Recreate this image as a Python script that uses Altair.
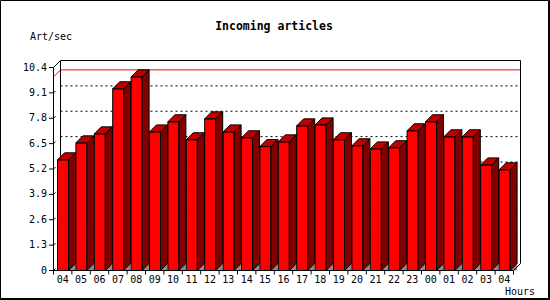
import altair as alt
import pandas as pd

# ---------------- data ----------------
hours = ["04", "05", "06", "07", "08", "09", "10", "11", "12", "13", "14", "15",
         "16", "17", "18", "19", "20", "21", "22", "23", "00", "01", "02", "03", "04"]
rates = [5.67, 6.54, 7.00, 9.31, 9.92, 7.10, 7.62, 6.70, 7.77, 7.10, 6.80, 6.35,
         6.59, 7.41, 7.46, 6.70, 6.39, 6.23, 6.29, 7.16, 7.62, 6.85, 6.85, 5.41, 5.16]
y_ticks = [0, 1.3, 2.6, 3.9, 5.2, 6.5, 7.8, 9.1, 10.4]
title_text = "Incoming articles"
y_title = "Art/sec"
x_title = "Hours"

# ---------------- geometry / style ----------------
PLOT_W, PLOT_H = 467, 210
PAD_L, PAD_T = 53, 60
N = len(hours)
YMAX = y_ticks[-1]
DEPTH_PX = 7
px_x = (PLOT_W - DEPTH_PX) / N
px_y = (PLOT_H - DEPTH_PX) / YMAX
DX = DEPTH_PX / px_x
DY = DEPTH_PX / px_y
BAR_OFF = 4 / px_x
BAR_W = 11 / px_x
FONT = "DejaVu Sans Mono"

xs = alt.Scale(domain=[0, N + DX], range=[0.5, PLOT_W + 0.5], nice=False, zero=False)
ys = alt.Scale(domain=[0, YMAX + DY], range=[PLOT_H + 0.5, 0.5], nice=False, zero=False)


def X(f):
    return alt.X(f, type="quantitative", scale=xs, axis=None)


def Y(f):
    return alt.Y(f, type="quantitative", scale=ys, axis=None)


# ---------------- derived tables ----------------
front_rows, side_rows, top_rows, shadow_rows = [], [], [], []
for i, v in enumerate(rates):
    x0 = i + BAR_OFF
    x1 = x0 + BAR_W
    front_rows.append({"bar": i, "x0": x0, "x1": x1, "v": v, "z": 0.0})
    side_rows.append({"bar": i, "x": x1, "top": v, "bot": 0.0})
    side_rows.append({"bar": i, "x": x1 + DX, "top": v + DY, "bot": DY})
    top_rows.append({"bar": i, "y": v, "xl": x0, "xr": x1})
    top_rows.append({"bar": i, "y": v + DY, "xl": x0 + DX, "xr": x1 + DX})
    shadow_rows.append({"bar": i, "x": x1, "top": 0.0, "bot": 0.0})
    shadow_rows.append({"bar": i, "x": x1 + DX, "top": DY, "bot": 0.0})

front_df = pd.DataFrame(front_rows)
side_df = pd.DataFrame(side_rows)
top_df = pd.DataFrame(top_rows)
shadow_df = pd.DataFrame(shadow_rows)

vmax = max(rates)
grid_df = pd.DataFrame([{"x": DX, "x2": N + DX, "y": t + DY, "y2": t + DY}
                        for t in y_ticks[1:-1]])
red_df = pd.DataFrame([
    {"x": 0, "x2": DX, "y": vmax, "y2": vmax + DY},
    {"x": DX, "x2": N + DX, "y": vmax + DY, "y2": vmax + DY},
])
back_df = pd.DataFrame([
    {"x": DX, "x2": N + DX, "y": YMAX + DY, "y2": YMAX + DY},      # back top
    {"x": DX, "x2": DX, "y": DY, "y2": YMAX + DY},                 # back left
    {"x": N + DX, "x2": N + DX, "y": DY, "y2": YMAX + DY},         # back right
    {"x": 0, "x2": DX, "y": YMAX, "y2": YMAX + DY},                # left wall top
])
front_axis_df = pd.DataFrame([
    {"x": 0, "x2": 0, "y": 0, "y2": YMAX},                         # front y axis
    {"x": 0, "x2": N, "y": 0, "y2": 0},                            # front x axis
    {"x": N, "x2": N + DX, "y": 0, "y2": DY},                      # right floor edge
])
ytick_df = pd.DataFrame({
    "t": y_ticks,
    "t2": [t + 2 / px_y for t in y_ticks],
    "x": [0.0] * len(y_ticks),
    "x2": [2 / px_x] * len(y_ticks),
    "label": ["0" if t == 0 else f"{t:.1f}" for t in y_ticks],
})
xtick_df = pd.DataFrame({"b": list(range(N + 1))})
xlab_df = pd.DataFrame({"c": [i + 0.5 for i in range(N)], "label": hours})

# ---------------- layers ----------------
grid = alt.Chart(grid_df).mark_rule(color="black", strokeWidth=1, strokeDash=[2, 3]).encode(
    x=X("x"), x2="x2", y=Y("y"), y2="y2")
redline = alt.Chart(red_df).mark_rule(color="#ff0000", strokeWidth=1).encode(
    x=X("x"), x2="x2", y=Y("y"), y2="y2")
back = alt.Chart(back_df).mark_rule(color="black", strokeWidth=1).encode(
    x=X("x"), x2="x2", y=Y("y"), y2="y2")

shadow = alt.Chart(shadow_df).mark_area(color="#8c8c8c", orient="vertical").encode(
    x=X("x"), y=alt.Y("top:Q", scale=ys, axis=None, stack=False), y2="bot",
    detail="bar:N")
front = alt.Chart(front_df).mark_rect(color="#ff0000", stroke="black", strokeWidth=1).encode(
    x=X("x0"), x2="x1", y=Y("z"), y2="v")
side = alt.Chart(side_df).mark_area(color="#800000", stroke="black", strokeWidth=1,
                                    orient="vertical").encode(
    x=X("x"), y=alt.Y("top:Q", scale=ys, axis=None, stack=False), y2="bot",
    detail="bar:N")
top = alt.Chart(top_df).mark_area(color="#c00000", stroke="black", strokeWidth=1,
                                  orient="horizontal").encode(
    y=Y("y"), x=alt.X("xl:Q", scale=xs, axis=None, stack=False), x2="xr",
    detail="bar:N")

faxis = alt.Chart(front_axis_df).mark_rule(color="black", strokeWidth=1).encode(
    x=X("x"), x2="x2", y=Y("y"), y2="y2")

yticks = alt.Chart(ytick_df).mark_rule(color="black", strokeWidth=1).encode(
    x=alt.value(-4), x2=alt.value(0.5), y=Y("t"))
ydiag = alt.Chart(ytick_df).mark_rule(color="black", strokeWidth=1).encode(
    x=X("x"), x2="x2", y=Y("t"), y2="t2")
ylabels = alt.Chart(ytick_df).mark_text(align="right", baseline="middle", font=FONT,
                                        fontSize=10, color="black").encode(
    x=alt.value(-6), y=Y("t"), text="label:N")

xticks = alt.Chart(xtick_df).mark_rule(color="black", strokeWidth=1).encode(
    x=X("b"), y=alt.value(PLOT_H + 0.5), y2=alt.value(PLOT_H + 4.5))
xlabels = alt.Chart(xlab_df).mark_text(align="center", baseline="middle", font=FONT,
                                       fontSize=10, color="black").encode(
    x=X("c"), y=alt.value(PLOT_H + 9.5), text="label:N")

title = alt.Chart(pd.DataFrame({"t": [title_text]})).mark_text(
    align="center", baseline="middle", font=FONT, fontSize=11.5, fontWeight="bold",
    color="black").encode(x=alt.value(274 - PAD_L), y=alt.value(27 - PAD_T), text="t:N")
ytitle = alt.Chart(pd.DataFrame({"t": [y_title]})).mark_text(
    align="left", baseline="middle", font=FONT, fontSize=10, color="black").encode(
    x=alt.value(30 - PAD_L), y=alt.value(37 - PAD_T), text="t:N")
xtitle = alt.Chart(pd.DataFrame({"t": [x_title]})).mark_text(
    align="right", baseline="middle", font=FONT, fontSize=10, color="black").encode(
    x=alt.value(535 - PAD_L), y=alt.value(292 - PAD_T), text="t:N")

border = alt.Chart(pd.DataFrame({"t": [0]})).mark_rect(
    fillOpacity=0, stroke="black", strokeWidth=1).encode(
    x=alt.value(0.5 - PAD_L), x2=alt.value(548.5 - PAD_L),
    y=alt.value(0.5 - PAD_T), y2=alt.value(298.5 - PAD_T))
border_r = alt.Chart(pd.DataFrame({"t": [0]})).mark_rule(color="black", strokeWidth=1).encode(
    x=alt.value(549.5 - PAD_L), y=alt.value(-PAD_T), y2=alt.value(300 - PAD_T))
border_b = alt.Chart(pd.DataFrame({"t": [0]})).mark_rule(color="black", strokeWidth=1).encode(
    x=alt.value(-PAD_L), x2=alt.value(550 - PAD_L), y=alt.value(299.5 - PAD_T))

chart = alt.layer(
    grid, redline, back, shadow, front, side, top, faxis,
    yticks, ydiag, ylabels, xticks, xlabels, title, ytitle, xtitle,
    border, border_r, border_b,
).properties(
    width=PLOT_W, height=PLOT_H,
    padding={"left": PAD_L, "top": PAD_T, "right": 550 - PAD_L - PLOT_W,
             "bottom": 300 - PAD_T - PLOT_H},
    autosize=alt.AutoSizeParams(type="none"),
    background="white",
).configure_view(strokeWidth=0)

chart.save("out.html", embed_options={"renderer": "svg", "actions": False})
